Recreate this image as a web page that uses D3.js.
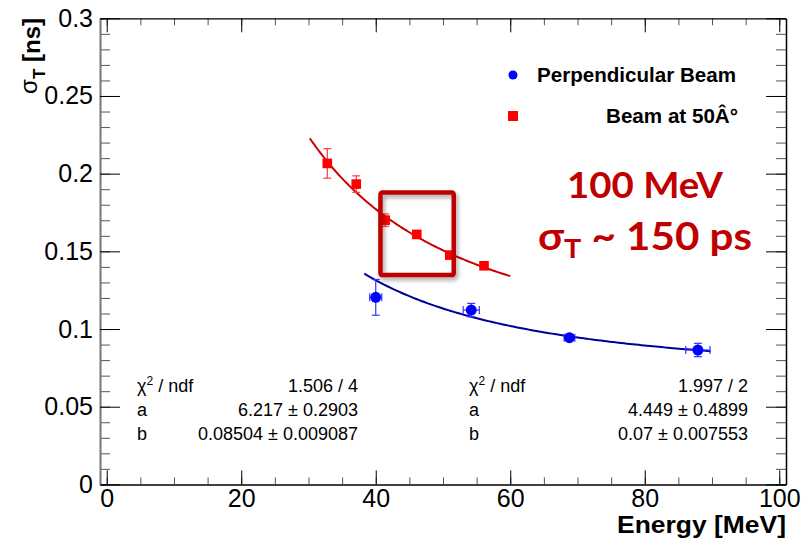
<!DOCTYPE html>
<html>
<head>
<meta charset="utf-8">
<script src="https://cdnjs.cloudflare.com/ajax/libs/d3/7.8.5/d3.min.js"></script>
<style>
  body { margin: 0; background: #fff; }
  svg { font-family: "Liberation Sans", Arial, sans-serif; }
</style>
</head>
<body>
<div id="viz"></div>
<script>
var w = 811;
var h = 540;

// perpendicular beam (blue circles)
var perpEnergy = [40.0, 54.2, 68.8, 87.9];
var perpSigma = [0.1204, 0.1122, 0.0944, 0.0865];
var perpEnergyErr = [0.9, 1.2, 0.8, 1.8];
var perpSigmaErr = [0.0115, 0.0043, 0.002, 0.0043];

// beam at 50 deg (red squares)
var angEnergy = [32.8, 37.1, 41.4, 46.1, 51.0, 56.1];
var angSigma = [0.2066, 0.1933, 0.1701, 0.1609, 0.1476, 0.1407];
var angSigmaErr = [0.0095, 0.0053, 0.004, 0.002, 0.002, 0.002];

// fit sigma = sqrt((a/E)^2 + b^2)
var perpFitParams = [4.449, 0.07];
var perpFitRange = [38.3, 89.8];
var angFitParams = [6.217, 0.08504];
var angFitRange = [30.2, 60];

var xMajor = [0, 20, 40, 60, 80, 100];
var yMajor = [0, 0.05, 0.1, 0.15, 0.2, 0.25, 0.3];
var xMinor = d3.range(0, 101, 5);
var yMinor = d3.range(0, 0.3001, 0.01);

var statsLabels = ["χ2 / ndf", "a", "b"];
var angStats = ["1.506 / 4", "6.217 \u00b1 0.2903", "0.08504 \u00b1 0.009087"];
var perpStats = ["1.997 / 2", "4.449 \u00b1 0.4899", "0.07 \u00b1 0.007553"];

// highlighted region [E0, E1, sigma0, sigma1]
var highlightBox = [40.7, 51.6, 0.1347, 0.1878];

var x = d3.scaleLinear().domain([-1, 101]).range([100, 786]);
var y = d3.scaleLinear().domain([0, 0.3]).range([484.4, 18.3]);

var svg = d3.select("#viz")
    .append("svg")
    .attr("width", w)
    .attr("height", h);

var defs = svg.append("defs");
var shadow = defs.append("filter").attr("id", "shadow")
    .attr("x", "-20%").attr("y", "-20%").attr("width", "150%").attr("height", "150%");
shadow.append("feDropShadow")
    .attr("dx", 2).attr("dy", 3).attr("stdDeviation", 2)
    .attr("flood-color", "#000").attr("flood-opacity", 0.35);

function styleAxis(g, color, width) {
    g.select(".domain").attr("stroke", color).attr("stroke-width", width);
    g.selectAll(".tick line").attr("stroke", "#000");
}

// minor ticks
svg.append("g").attr("transform", "translate(0,484.4)")
    .call(d3.axisBottom(x).tickValues(xMinor).tickSize(-7).tickFormat(""))
    .call(function(g) { g.select(".domain").remove(); g.selectAll("line").attr("stroke", "#555"); });
svg.append("g").attr("transform", "translate(0,18.3)")
    .call(d3.axisTop(x).tickValues(xMinor).tickSize(-7).tickFormat(""))
    .call(function(g) { g.select(".domain").remove(); g.selectAll("line").attr("stroke", "#555"); });
svg.append("g").attr("transform", "translate(100,0)")
    .call(d3.axisLeft(y).tickValues(yMinor).tickSize(-10).tickFormat(""))
    .call(function(g) { g.select(".domain").remove(); g.selectAll("line").attr("stroke", "#555"); });
svg.append("g").attr("transform", "translate(786,0)")
    .call(d3.axisRight(y).tickValues(yMinor).tickSize(-10).tickFormat(""))
    .call(function(g) { g.select(".domain").remove(); g.selectAll("line").attr("stroke", "#555"); });

// major ticks + labels
var xAxis = svg.append("g").attr("transform", "translate(0,484.4)")
    .call(d3.axisBottom(x).tickValues(xMajor).tickSizeInner(-14).tickSizeOuter(0).tickPadding(5).tickFormat(d3.format("d")));
styleAxis(xAxis, "#000", 1.5);
xAxis.selectAll("text").attr("font-size", 25).attr("fill", "#000")
    .attr("font-family", "Liberation Sans, Arial, sans-serif");

var yAxis = svg.append("g").attr("transform", "translate(100,0)")
    .call(d3.axisLeft(y).tickValues(yMajor).tickSizeInner(-20).tickSizeOuter(0).tickPadding(7).tickFormat(function(d) { return d3.format("")(+d.toFixed(2)); }));
styleAxis(yAxis, "#777", 2);
yAxis.selectAll("text").attr("font-size", 25).attr("fill", "#000")
    .attr("font-family", "Liberation Sans, Arial, sans-serif");

var topAxis = svg.append("g").attr("transform", "translate(0,18.3)")
    .call(d3.axisTop(x).tickValues(xMajor).tickSizeInner(-14).tickSizeOuter(0).tickFormat(""));
styleAxis(topAxis, "#000", 1.2);

var rightAxis = svg.append("g").attr("transform", "translate(786,0)")
    .call(d3.axisRight(y).tickValues(yMajor).tickSizeInner(-20).tickSizeOuter(0).tickFormat(""));
styleAxis(rightAxis, "#000", 1.5);

// axis titles
svg.append("text")
    .attr("x", 786).attr("y", 533)
    .attr("text-anchor", "end")
    .attr("font-size", 23).attr("font-weight", "bold")
    .attr("textLength", 169).attr("lengthAdjust", "spacingAndGlyphs")
    .text("Energy [MeV]");

var yTitle = svg.append("text")
    .attr("transform", "translate(40,18) rotate(-90)")
    .attr("text-anchor", "end")
    .attr("font-size", 24).attr("font-weight", "bold");
yTitle.append("tspan").attr("font-weight", "normal").attr("dy", -3).text("σ");
yTitle.append("tspan").attr("font-size", 17).attr("dy", 8).text("T");
yTitle.append("tspan").attr("dy", -5).text(" [ns]");

// fit curves
function fitPoints(p, range) {
    var pts = [];
    var n = 120;
    for (var i = 0; i <= n; i++) {
        var e = range[0] + (range[1] - range[0]) * i / n;
        pts.push([e, Math.sqrt(Math.pow(p[0] / e, 2) + p[1] * p[1])]);
    }
    return pts;
}
var line = d3.line().x(function(d) { return x(d[0]); }).y(function(d) { return y(d[1]); });

svg.append("path").datum(fitPoints(angFitParams, angFitRange))
    .attr("d", line).attr("fill", "none").attr("stroke", "#cc0000").attr("stroke-width", 2);
svg.append("path").datum(fitPoints(perpFitParams, perpFitRange))
    .attr("d", line).attr("fill", "none").attr("stroke", "#000099").attr("stroke-width", 2);

// error bars
function errorBars(ex, ey, exErr, eyErr, color) {
    var g = svg.append("g").attr("stroke", color).attr("stroke-width", 1.2);
    ex.forEach(function(e, i) {
        var cx = x(e), cy = y(ey[i]);
        var y0 = y(ey[i] - eyErr[i]), y1 = y(ey[i] + eyErr[i]);
        g.append("line").attr("x1", cx).attr("x2", cx).attr("y1", y0).attr("y2", y1);
        g.append("line").attr("x1", cx - 4).attr("x2", cx + 4).attr("y1", y0).attr("y2", y0);
        g.append("line").attr("x1", cx - 4).attr("x2", cx + 4).attr("y1", y1).attr("y2", y1);
        if (exErr && exErr[i] > 0) {
            var x0 = x(e - exErr[i]), x1 = x(e + exErr[i]);
            g.append("line").attr("x1", x0).attr("x2", x1).attr("y1", cy).attr("y2", cy);
            g.append("line").attr("x1", x0).attr("x2", x0).attr("y1", cy - 4).attr("y2", cy + 4);
            g.append("line").attr("x1", x1).attr("x2", x1).attr("y1", cy - 4).attr("y2", cy + 4);
        }
    });
}
errorBars(angEnergy, angSigma, null, angSigmaErr, "#ff3b3b");
errorBars(perpEnergy, perpSigma, perpEnergyErr, perpSigmaErr, "#3333ff");

// markers
svg.selectAll("rect.ang")
    .data(angEnergy)
    .enter()
    .append("rect")
    .attr("class", "ang")
    .attr("x", function(d) { return x(d) - 4.8; })
    .attr("y", function(d, i) { return y(angSigma[i]) - 4.8; })
    .attr("width", 9.6).attr("height", 9.6)
    .attr("fill", "#ff0000");

svg.selectAll("circle.perp")
    .data(perpEnergy)
    .enter()
    .append("circle")
    .attr("class", "perp")
    .attr("cx", function(d) { return x(d); })
    .attr("cy", function(d, i) { return y(perpSigma[i]); })
    .attr("r", 5.5)
    .attr("fill", "#0000ff");

// highlight box
svg.append("rect")
    .attr("x", x(highlightBox[0])).attr("y", y(highlightBox[3]))
    .attr("width", x(highlightBox[1]) - x(highlightBox[0]))
    .attr("height", y(highlightBox[2]) - y(highlightBox[3]))
    .attr("rx", 2)
    .attr("fill", "none").attr("stroke", "#c00000").attr("stroke-width", 4.5)
    .attr("filter", "url(#shadow)");

// legend
svg.append("circle").attr("cx", 513).attr("cy", 75).attr("r", 4.5).attr("fill", "#0000ff");
svg.append("rect").attr("x", 508).attr("y", 111).attr("width", 10).attr("height", 10).attr("fill", "#ff0000");
svg.append("text").attr("x", 537).attr("y", 82)
    .attr("font-size", 20).attr("font-weight", "bold")
    .attr("textLength", 199).attr("lengthAdjust", "spacingAndGlyphs")
    .text("Perpendicular Beam");
svg.append("text").attr("x", 738).attr("y", 123)
    .attr("text-anchor", "end")
    .attr("font-size", 20).attr("font-weight", "bold")
    .attr("textLength", 132).attr("lengthAdjust", "spacingAndGlyphs")
    .text("Beam at 50Â°");

// fit statistics
function statsBox(left, right, values) {
    statsLabels.forEach(function(lab, i) {
        var t = svg.append("text").attr("x", left).attr("y", 392 + i * 24).attr("font-size", 18);
        if (i === 0) {
            t.append("tspan").text("χ");
            t.append("tspan").attr("font-size", 12).attr("dy", -7).text("2");
            t.append("tspan").attr("dy", 7).text(" / ndf");
        } else {
            t.text(lab);
        }
        svg.append("text").attr("x", right).attr("y", 392 + i * 24)
            .attr("text-anchor", "end").attr("font-size", 18)
            .text(values[i]);
    });
}
statsBox(137, 358, angStats);
statsBox(469, 748, perpStats);

// annotation text
var note = svg.append("g").attr("fill", "#c00000").attr("font-family", "Lato, 'Open Sans', sans-serif").attr("font-weight", "bold");
note.append("text").attr("x", 645).attr("y", 198)
    .attr("text-anchor", "middle").attr("font-size", 37)
    .attr("textLength", 156).attr("lengthAdjust", "spacingAndGlyphs")
    .text("100 MeV");
var note2 = note.append("text").attr("x", 645).attr("y", 250)
    .attr("text-anchor", "middle").attr("font-size", 38)
    .attr("textLength", 214).attr("lengthAdjust", "spacingAndGlyphs");
note2.append("tspan").text("σ");
note2.append("tspan").attr("font-size", 26).attr("dy", 8).text("T");
note2.append("tspan").attr("dy", -8).text(" ~ 150 ps");
</script>
</body>
</html>
